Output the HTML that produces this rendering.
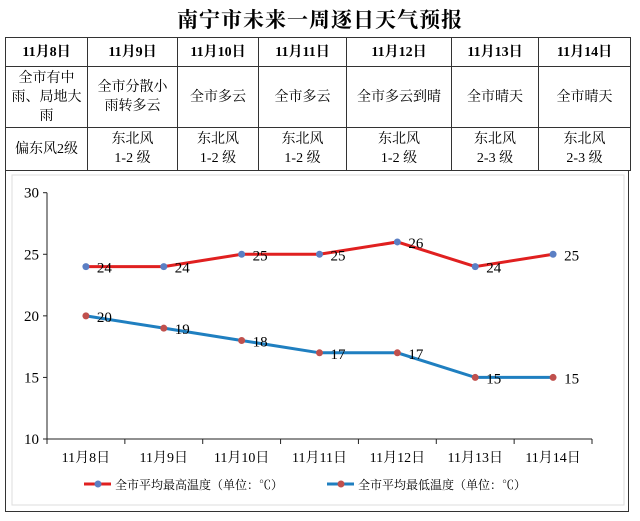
<!DOCTYPE html>
<html><head><meta charset="utf-8"><style>
body{margin:0;background:#fff;width:640px;height:521px;overflow:hidden;font-family:"Liberation Serif","Noto Serif CJK SC",serif;}
#title{position:absolute;left:0;top:4px;width:640px;text-align:center;font-size:21px;font-weight:bold;letter-spacing:1px;}
table{position:absolute;left:5px;top:37px;border-collapse:collapse;}
td{border:1.5px solid #333;text-align:center;font-size:14px;line-height:19px;padding:0;}
tr.h td{height:28px;font-weight:bold;font-size:14px;}
tr.w td{height:60px;}
tr.f td{height:42px;}
#box{position:absolute;left:5px;top:170px;width:624px;height:342px;border:1.5px solid #333;border-top:none;box-sizing:border-box;}
svg{position:absolute;left:0;top:0;}
</style></head><body>
<div id="title">南宁市未来一周逐日天气预报</div>
<table>
<tr class="h"><td style="width:81px">11月8日</td><td style="width:89px">11月9日</td><td style="width:80px">11月10日</td><td style="width:87px">11月11日</td><td style="width:104px">11月12日</td><td style="width:86px">11月13日</td><td style="width:91px">11月14日</td></tr>
<tr class="w"><td>全市有中<br>雨、局地大<br>雨</td><td>全市分散小<br>雨转多云</td><td>全市多云</td><td>全市多云</td><td>全市多云到晴</td><td>全市晴天</td><td>全市晴天</td></tr>
<tr class="f"><td>偏东风2级</td><td>东北风<br>1-2 级</td><td>东北风<br>1-2 级</td><td>东北风<br>1-2 级</td><td>东北风<br>1-2 级</td><td>东北风<br>2-3 级</td><td>东北风<br>2-3 级</td></tr>
</table>
<div id="box"></div>
<svg id="chart" width="640" height="521"></svg>
<script>
const categories=["11月8日","11月9日","11月10日","11月11日","11月12日","11月13日","11月14日"];
const highTemps=[24,24,25,25,26,24,25];
const lowTemps=[20,19,18,17,17,15,15];
const yTicks=[10,15,20,25,30];
const NS="http://www.w3.org/2000/svg";
const svg=document.getElementById('chart');
const x0=47,x1=592,yTop=192.7,yBot=439,yMin=10,yMax=30;
const step=(x1-x0)/categories.length;
const xs=i=>x0+step*(i+0.5);
const ys=v=>yBot-(v-yMin)/(yMax-yMin)*(yBot-yTop);
function mk(t,a){const e=document.createElementNS(NS,t);for(const k in a)e.setAttribute(k,a[k]);svg.appendChild(e);return e;}
const inner=mk('rect',{x:12,y:175,width:612,height:330,fill:'none',stroke:'#ddd'});


let ax=mk('line',{x1:x0,y1:yTop,x2:x0,y2:yBot,stroke:'#222','stroke-width':1});


ax=mk('line',{x1:x0,y1:yBot,x2:x1,y2:yBot,stroke:'#222','stroke-width':1});


yTicks.forEach(v=>{
 mk('line',{x1:x0-4,y1:ys(v),x2:x0,y2:ys(v),stroke:'#222'});
 const t=mk('text',{x:x0-8,y:ys(v)+5,'text-anchor':'end','font-size':15});
 t.textContent=v;
 
 
});
for(let i=0;i<=categories.length;i++){mk('line',{x1:x0+step*i,y1:yBot,x2:x0+step*i,y2:yBot+5,stroke:'#222'});}
categories.forEach((c,i)=>{
 const t=mk('text',{x:xs(i),y:462,'text-anchor':'middle','font-size':14});
 t.textContent=c;
 
 
});
function series(data,lc,mc,name){
 const p=mk('polyline',{points:data.map((v,i)=>xs(i)+','+ys(v)).join(' '),fill:'none',stroke:lc,'stroke-width':3});
 
 
 data.forEach((v,i)=>{
  const c=mk('circle',{cx:xs(i),cy:ys(v),r:3.5,fill:mc});
  
  
  const t=mk('text',{x:xs(i)+11,y:ys(v)+6,'font-size':15});
  t.textContent=v;
  
  
 });
}
series(highTemps,'#e02020','#5b7fc4','high-temp');
series(lowTemps,'#1f7fc0','#c0504d','low-temp');
function legend(x,lc,mc,label,name){
 const g=document.createElementNS(NS,'g');svg.appendChild(g);
 
 
 const l=document.createElementNS(NS,'line');
 [['x1',x],['y1',484],['x2',x+27],['y2',484],['stroke',lc],['stroke-width',3]].forEach(a=>l.setAttribute(a[0],a[1]));g.appendChild(l);
 const c=document.createElementNS(NS,'circle');
 [['cx',x+14],['cy',484],['r',3.5],['fill',mc]].forEach(a=>c.setAttribute(a[0],a[1]));g.appendChild(c);
 const t=document.createElementNS(NS,'text');
 t.setAttribute('x',x+31);t.setAttribute('y',489);t.setAttribute('font-size',12);t.textContent=label;g.appendChild(t);
}
legend(84,'#e02020','#5b7fc4','全市平均最高温度（单位：℃）','legend-high-temp');
legend(327,'#1f7fc0','#c0504d','全市平均最低温度（单位：℃）','legend-low-temp');
</script>
</body></html>
